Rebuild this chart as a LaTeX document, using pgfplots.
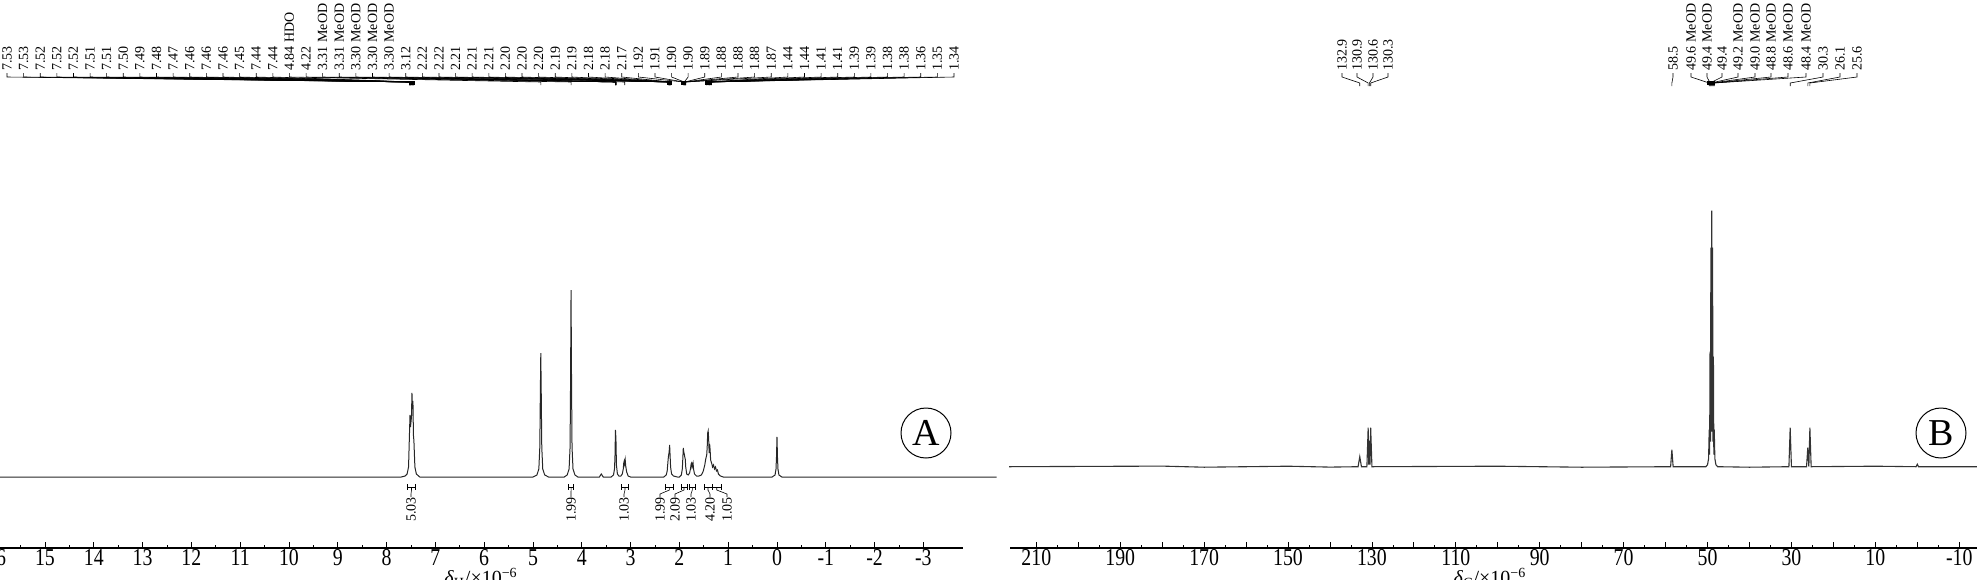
\documentclass[border=0pt]{standalone}
\usepackage{pgfplots}
\pgfplotsset{compat=1.18}
\usepackage{graphicx}
\usepackage{fontspec}
\setmainfont{Liberation Serif}
\newcommand\tl[1]{\scalebox{0.9}[1.1]{#1}}
\begin{document}
\begin{tikzpicture}[x=0.5pt,y=-0.5pt]
\clip (0,0) rectangle (1977,579);
\pgfplotsset{
  nmr/.style={
    scale only axis, anchor=south west,
    axis x line*=bottom, axis y line=none,
    x dir=reverse, tick align=inside,
    major tick length=3pt, minor tick length=1.6pt,
    every tick/.style={black, line width=0.4pt},
    axis line style={line width=0.6pt, black},
    xticklabel style={font=\fontsize{11}{11}\selectfont, inner sep=0.6pt},
    ytick=\empty, clip=false,
  }
}
% ---------------- Panel A : 1H NMR ----------------
\begin{axis}[nmr, at={(-10pt,-274pt)}, width=491.5pt, height=224pt,
  xmin=-3.8115, xmax=16.332, ymin=-71, ymax=377,
  xtick={-3,...,16},
  xticklabels={\tl{-3},\tl{-2},\tl{-1},\tl{0},\tl{1},\tl{2},\tl{3},\tl{4},\tl{5},\tl{6},\tl{7},\tl{8},\tl{9},\tl{10},\tl{11},\tl{12},\tl{13},\tl{14},\tl{15},\tl{16}},
  minor x tick num=1]
\addplot[line width=0.5pt, black!85] coordinates {
(16.4,0)(7.70,0)(7.62,1)(7.58,3)(7.55,10)(7.53,45)(7.52,62)(7.51,50)(7.50,55)(7.49,60)(7.48,84)(7.47,68)(7.46,76)(7.45,42)(7.44,36)(7.42,10)(7.39,3)(7.32,0)
(5.00,0)(4.92,2)(4.88,8)(4.86,30)(4.85,80)(4.84,124)(4.83,80)(4.82,30)(4.80,8)(4.76,2)(4.68,0)
(4.36,0)(4.30,2)(4.26,8)(4.24,30)(4.23,95)(4.22,187)(4.21,95)(4.20,30)(4.18,8)(4.14,2)(4.08,0)
(3.64,0)(3.60,3)(3.56,0)
(3.40,0)(3.35,2)(3.33,8)(3.32,20)(3.31,47)(3.30,38)(3.29,12)(3.27,3)(3.24,1)
(3.20,1)(3.17,3)(3.15,8)(3.14,14)(3.13,16)(3.12,13)(3.11,17)(3.10,11)(3.08,5)(3.05,1)(3.00,0)
(2.32,0)(2.27,2)(2.25,6)(2.23,18)(2.22,22)(2.21,25)(2.20,32)(2.19,21)(2.18,10)(2.16,3)(2.12,1)(2.04,0)
(2.00,0)(1.96,2)(1.94,8)(1.93,18)(1.92,29)(1.91,25)(1.90,23)(1.89,20)(1.88,18)(1.87,10)(1.85,3)(1.82,2)
(1.79,4)(1.77,9)(1.76,13)(1.75,14)(1.74,10)(1.73,12)(1.72,14)(1.71,8)(1.69,3)(1.65,1)(1.60,1)
(1.55,2)(1.51,6)(1.48,12)(1.46,18)(1.44,22)(1.43,30)(1.42,44)(1.41,46)(1.40,38)(1.39,24)(1.38,33)(1.37,27)(1.36,17)(1.34,14)(1.32,10)(1.30,12)(1.28,8)(1.26,10)(1.24,6)(1.22,7)(1.20,3)(1.16,1)(1.10,0)
(0.10,0)(0.04,2)(0.02,8)(0.01,20)(0.00,40)(-0.01,20)(-0.02,8)(-0.04,2)(-0.10,0)(-4.5,0)
};
\end{axis}
% ---------------- Panel B : 13C NMR ----------------
\begin{axis}[nmr, at={(505pt,-274pt)}, width=485pt, height=224pt,
  xmin=-14.95, xmax=216.28, ymin=-81.3, ymax=366.7,
  xtick={-10,0,...,210},
  xticklabels={\tl{-10},,\tl{10},,\tl{30},,\tl{50},,\tl{70},,\tl{90},,\tl{110},,\tl{130},,\tl{150},,\tl{170},,\tl{190},,\tl{210}},
  minor x tick num=1]
\addplot[line width=0.55pt, black!80] coordinates {
(216.5,0)(180,0.6)(170,-0.5)(150,0.5)(140,-0.4)(133.3,0)(132.9,10)(132.5,0)
(131.2,0)(130.9,39)(130.75,2)(130.6,26)(130.45,2)(130.3,39)(130.0,0)
(100,0.5)(80,-0.5)(58.8,0)(58.5,17)(58.2,0)
(50.4,0)(50.0,2)(49.75,8)(49.6,37)(49.5,12)(49.4,115)(49.3,25)(49.2,219)(49.1,35)(49.0,256)(48.9,35)(48.8,219)(48.7,25)(48.6,110)(48.5,12)(48.4,37)(48.25,8)(48.0,2)(47.6,0)
(40,-0.5)(30.6,0)(30.3,39)(30.0,0)
(26.4,0)(26.1,19)(25.85,0)(25.6,39)(25.3,0)
(10,0.5)(0.3,0)(0.0,2.5)(-0.3,0)(-16,0)
};
\end{axis}
% ---------- panel markers ----------
\node[circle, draw, line width=0.5pt, minimum size=25pt, inner sep=0pt,
      font=\fontsize{19}{19}\selectfont] at (926,433) {A};
\node[circle, draw, line width=0.5pt, minimum size=25pt, inner sep=0pt,
      font=\fontsize{19}{19}\selectfont] at (1941,433) {B};
% ---------- axis titles ----------
\node[font=\fontsize{10}{10}\selectfont, inner sep=0pt] at (481,578)
  {\textit{δ}\textsubscript{H}/×10\textsuperscript{−6}};
\node[font=\fontsize{10}{10}\selectfont, inner sep=0pt] at (1490,578)
  {\textit{δ}\textsubscript{C}/×10\textsuperscript{−6}};
% ---------- peak picking, panel A ----------
\foreach \i/\p/\t in {0/7.53/7.53,1/7.53/7.53,2/7.52/7.52,3/7.52/7.52,4/7.52/7.52,
  5/7.51/7.51,6/7.51/7.51,7/7.50/7.50,8/7.49/7.49,9/7.48/7.48,10/7.47/7.47,
  11/7.46/7.46,12/7.46/7.46,13/7.46/7.46,14/7.45/7.45,15/7.44/7.44,16/7.44/7.44,
  17/4.84/4.84 HDO,18/4.22/4.22,19/3.31/3.31 MeOD,20/3.31/3.31 MeOD,
  21/3.30/3.30 MeOD,22/3.30/3.30 MeOD,23/3.30/3.30 MeOD,24/3.12/3.12,
  25/2.22/2.22,26/2.22/2.22,27/2.21/2.21,28/2.21/2.21,29/2.21/2.21,
  30/2.20/2.20,31/2.20/2.20,32/2.20/2.20,33/2.19/2.19,34/2.19/2.19,
  35/2.18/2.18,36/2.18/2.18,37/2.17/2.17,38/1.92/1.92,39/1.91/1.91,
  40/1.90/1.90,41/1.90/1.90,42/1.89/1.89,43/1.88/1.88,44/1.88/1.88,
  45/1.88/1.88,46/1.87/1.87,47/1.44/1.44,48/1.44/1.44,49/1.41/1.41,
  50/1.41/1.41,51/1.39/1.39,52/1.39/1.39,53/1.38/1.38,54/1.38/1.38,
  55/1.36/1.36,56/1.35/1.35,57/1.34/1.34}{
  \pgfmathsetmacro\lx{7+\i*16.614}
  \pgfmathsetmacro\px{777-48.8*\p}
  \draw[line width=0.3pt] (\lx,73) -- (\lx,77) -- (\px,82) -- (\px,85);
  \node[rotate=90, anchor=west, inner sep=0.5pt,
        font=\fontsize{7}{8}\selectfont] at (\lx,72) {\t};
}
\fill (409,81) rectangle (415,85);
\fill (667,81) rectangle (672,85);
\fill (681,81) rectangle (686,85);
\fill (705,81) rectangle (712,85);
% ---------- integrals, panel A ----------
\foreach \lx/\a/\b/\t in {411/7.57/7.41/5.03, 571/4.27/4.17/1.99, 624/3.19/3.04/1.03,
  660/2.28/2.13/1.99, 675/1.97/1.84/2.09, 691/1.80/1.67/1.03,
  710/1.50/1.33/4.20, 727/1.32/1.15/1.05}{
  \pgfmathsetmacro\pa{777-48.8*\a}
  \pgfmathsetmacro\pb{777-48.8*\b}
  \pgfmathsetmacro\pm{(\pa+\pb)/2}
  \draw[line width=0.3pt] (\pa,484) -- (\pa,490) (\pa,487) -- (\pb,487) (\pb,484) -- (\pb,490);
  \draw[line width=0.3pt] (\pm,487) -- (\pm,490) -- (\lx,494) -- (\lx,497);
  \node[rotate=90, anchor=west, inner sep=0.5pt,
        font=\fontsize{7}{8}\selectfont] at (\lx,523) {\t};
}
% ---------- peak picking, panel B ----------
\foreach \lx/\p/\t in {1342/132.9/132.9, 1357/130.9/130.9, 1373/130.6/130.6,
  1388/130.3/130.3, 1673/58.5/58.5, 1691/49.6/49.6 MeOD, 1707/49.4/49.4 MeOD,
  1722/49.4/49.4, 1738/49.2/49.2 MeOD, 1755/49.0/49.0 MeOD, 1771/48.8/48.8 MeOD,
  1788/48.6/48.6 MeOD, 1806/48.4/48.4 MeOD, 1823/30.3/30.3, 1840/26.1/26.1,
  1857/25.6/25.6}{
  \pgfmathsetmacro\px{1917.3-4.195*\p}
  \draw[line width=0.3pt] (\lx,73) -- (\lx,77) -- (\px,83) -- (\px,86);
  \node[rotate=90, anchor=west, inner sep=0.5pt,
        font=\fontsize{7}{8}\selectfont] at (\lx,72) {\t};
}
\fill (1707,81) rectangle (1715,85);
\end{tikzpicture}
\end{document}
